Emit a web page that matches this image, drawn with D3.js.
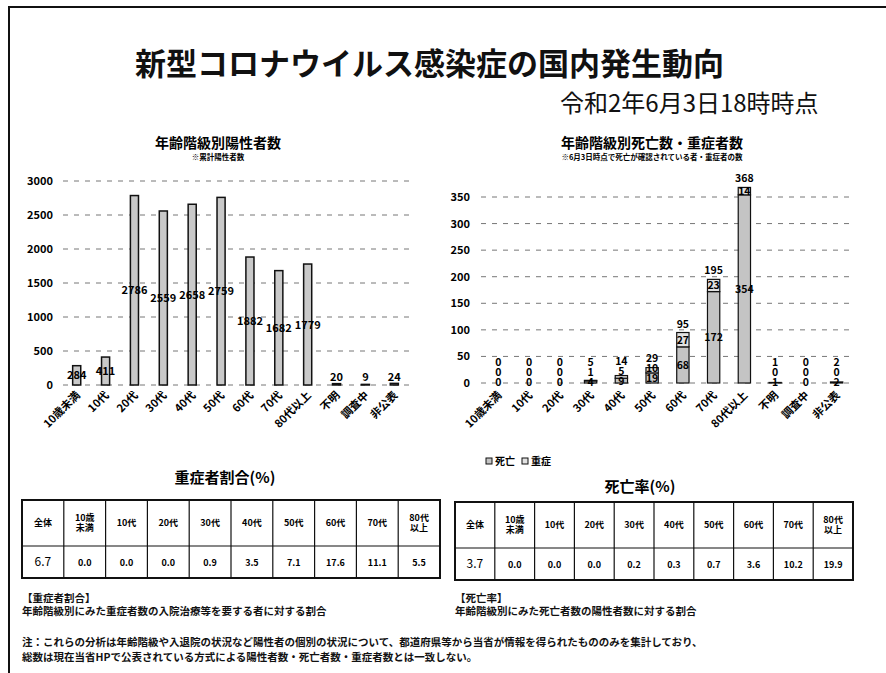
<!DOCTYPE html>
<html>
<head>
<meta charset="utf-8">
<script src="https://cdn.jsdelivr.net/npm/d3@7"></script>
<style>
  body { margin: 0; background: #fff; }
  svg { font-family: "Noto Sans CJK JP", "Noto Sans", sans-serif; }
</style>
</head>
<body>
<div id="container"></div>
<script>
const width = 886;
const height = 673;

const ageGroups = ["10歳未満", "10代", "20代", "30代", "40代", "50代", "60代", "70代", "80代以上", "不明", "調査中", "非公表"];
const positives = [284, 411, 2786, 2559, 2658, 2759, 1882, 1682, 1779, 20, 9, 24];
const deaths = [0, 0, 0, 4, 9, 19, 68, 172, 354, 1, 0, 2];
const severe = [0, 0, 0, 1, 5, 10, 27, 23, 14, 0, 0, 0];

const leftTicks = [0, 500, 1000, 1500, 2000, 2500, 3000];
const rightTicks = [0, 50, 100, 150, 200, 250, 300, 350];

const tableHeads = ["全体", "10歳\n未満", "10代", "20代", "30代", "40代", "50代", "60代", "70代", "80代\n以上"];
const severeRate = ["6.7", "0.0", "0.0", "0.0", "0.9", "3.5", "7.1", "17.6", "11.1", "5.5"];
const deathRate = ["3.7", "0.0", "0.0", "0.0", "0.2", "0.3", "0.7", "3.6", "10.2", "19.9"];

let svg = d3.select("#container").append("svg")
    .attr("width", width)
    .attr("height", height)
    .attr("viewBox", `0 0 ${width} ${height}`);

// frame
svg.append("path")
    .attr("d", "M9,673 V7 H886")
    .attr("fill", "none")
    .attr("stroke", "#111")
    .attr("stroke-width", 2);

svg.append("text")
    .attr("x", 135).attr("y", 75)
    .attr("font-size", 31).attr("font-weight", 700)
    .attr("fill", "#111")
    .text("新型コロナウイルス感染症の国内発生動向");

svg.append("text")
    .attr("x", 560).attr("y", 112)
    .attr("font-size", 24)
    .attr("fill", "#111")
    .text("令和2年6月3日18時時点");

// ---------- left chart: positives ----------
let xl = d3.scaleBand().domain(ageGroups).range([64, 407]).paddingInner(0.72).paddingOuter(0.3);
let yl = d3.scaleLinear().domain([0, 3000]).range([385, 181]);

svg.append("text").attr("x", 218).attr("y", 148).attr("text-anchor", "middle")
    .attr("font-size", 14).attr("font-weight", 700).text("年齢階級別陽性者数");
svg.append("text").attr("x", 218).attr("y", 160).attr("text-anchor", "middle")
    .attr("font-size", 7.5).attr("font-weight", 700).text("※累計陽性者数");

let gl = svg.append("g");
gl.selectAll("line.grid")
    .data(leftTicks)
    .join("line")
    .attr("x1", 63).attr("x2", 409)
    .attr("y1", d => yl(d)).attr("y2", d => yl(d))
    .attr("stroke", "#777")
    .attr("stroke-dasharray", "5,6");

gl.selectAll("text.tick")
    .data(leftTicks)
    .join("text")
    .attr("x", 53).attr("y", d => yl(d) + 4)
    .attr("text-anchor", "end")
    .attr("font-size", 11).attr("font-weight", 700)
    .text(d => d);

gl.selectAll("rect")
    .data(positives)
    .join("rect")
    .attr("x", (d, i) => xl(ageGroups[i]))
    .attr("y", d => yl(d))
    .attr("width", xl.bandwidth())
    .attr("height", d => yl(0) - yl(d))
    .attr("fill", "#c9c9c9")
    .attr("stroke", "#111")
    .attr("stroke-width", 1.5);

gl.selectAll("text.val")
    .data(positives)
    .join("text")
    .attr("x", (d, i) => xl(ageGroups[i]) + xl.bandwidth() / 2)
    .attr("y", d => Math.min((yl(d) + yl(0)) / 2, yl(0) - 8) + 4)
    .attr("text-anchor", "middle")
    .attr("font-size", 11).attr("font-weight", 700)
    .text(d => d);

gl.selectAll("text.cat")
    .data(ageGroups)
    .join("text")
    .attr("transform", d => "translate(" + (xl(d) + xl.bandwidth() / 2 + 4) + "," + 396 + ") rotate(-45)")
    .attr("text-anchor", "end")
    .attr("font-size", 11).attr("font-weight", 700)
    .text(d => d);

// ---------- right chart: deaths / severe ----------
let xr = d3.scaleBand().domain(ageGroups).range([483, 852]).paddingInner(0.6).paddingOuter(0.3);
let yr = d3.scaleLinear().domain([0, 350]).range([383, 197]);

svg.append("text").attr("x", 652).attr("y", 148).attr("text-anchor", "middle")
    .attr("font-size", 14).attr("font-weight", 700).text("年齢階級別死亡数・重症者数");
svg.append("text").attr("x", 652).attr("y", 160).attr("text-anchor", "middle")
    .attr("font-size", 7.5).attr("font-weight", 700).text("※6月3日時点で死亡が確認されている者・重症者の数");

let gr = svg.append("g");
gr.selectAll("line.grid")
    .data(rightTicks)
    .join("line")
    .attr("x1", 481).attr("x2", 852)
    .attr("y1", d => yr(d)).attr("y2", d => yr(d))
    .attr("stroke", "#777")
    .attr("stroke-dasharray", "5,6");

gr.selectAll("text.tick")
    .data(rightTicks)
    .join("text")
    .attr("x", 470).attr("y", d => yr(d) + 4)
    .attr("text-anchor", "end")
    .attr("font-size", 11).attr("font-weight", 700)
    .text(d => d);

let stacked = ageGroups.map((g, i) => ({ g: g, d: deaths[i], s: severe[i] }));

gr.selectAll("rect.death")
    .data(stacked)
    .join("rect")
    .attr("x", d => xr(d.g))
    .attr("y", d => yr(d.d))
    .attr("width", xr.bandwidth())
    .attr("height", d => yr(0) - yr(d.d))
    .attr("fill", "#c4c4c4")
    .attr("stroke", "#111")
    .attr("stroke-width", 1.2);

gr.selectAll("rect.severe")
    .data(stacked)
    .join("rect")
    .attr("x", d => xr(d.g))
    .attr("y", d => yr(d.d + d.s))
    .attr("width", xr.bandwidth())
    .attr("height", d => yr(d.d) - yr(d.d + d.s))
    .attr("fill", "#e2e2e2")
    .attr("stroke", "#111")
    .attr("stroke-width", 1.2);

// label positions, pushed apart when the segments are small
stacked.forEach(d => {
    d.dy = Math.min(yr(d.d / 2), yr(0) - 1);
    d.sy = Math.min(yr(d.d + d.s / 2), d.dy - 10);
    d.ty = Math.min(yr(d.d + d.s) - 9, d.sy - 10);
});

let labels = [];
stacked.forEach(d => {
    let cx = xr(d.g) + xr.bandwidth() / 2;
    labels.push({ x: cx, y: d.dy, t: d.d });
    labels.push({ x: cx, y: d.sy, t: d.s });
    labels.push({ x: cx, y: d.ty, t: d.d + d.s });
});

gr.selectAll("text.val")
    .data(labels)
    .join("text")
    .attr("x", d => d.x)
    .attr("y", d => d.y + 4)
    .attr("text-anchor", "middle")
    .attr("font-size", 10.5).attr("font-weight", 700)
    .text(d => d.t);

gr.selectAll("text.cat")
    .data(ageGroups)
    .join("text")
    .attr("transform", d => "translate(" + (xr(d) + xr.bandwidth() / 2 + 4) + "," + 396 + ") rotate(-45)")
    .attr("text-anchor", "end")
    .attr("font-size", 11).attr("font-weight", 700)
    .text(d => d);

// legend
let legend = svg.append("g").attr("font-size", 10).attr("font-weight", 700);
[["死亡", "#c4c4c4"], ["重症", "#e2e2e2"]].forEach((l, i) => {
    let lx = 486 + i * 36;
    legend.append("rect").attr("x", lx).attr("y", 458).attr("width", 6).attr("height", 6)
        .attr("fill", l[1]).attr("stroke", "#111");
    legend.append("text").attr("x", lx + 9).attr("y", 465).text(l[0]);
});

// ---------- tables ----------
function drawTable(x0, y0, colW, title, titleX, titleY, values) {
    svg.append("text").attr("x", titleX).attr("y", titleY).attr("text-anchor", "middle")
        .attr("font-size", 15).attr("font-weight", 700).text(title);
    let g = svg.append("g");
    let rowH = [46, 32];
    g.append("rect").attr("x", x0).attr("y", y0).attr("width", colW * 10).attr("height", rowH[0] + rowH[1])
        .attr("fill", "none").attr("stroke", "#111").attr("stroke-width", 2);
    g.append("line").attr("x1", x0).attr("x2", x0 + colW * 10).attr("y1", y0 + rowH[0]).attr("y2", y0 + rowH[0])
        .attr("stroke", "#111").attr("stroke-width", 1.2);
    g.selectAll("line.col")
        .data(d3.range(1, 10))
        .join("line")
        .attr("x1", i => x0 + i * colW).attr("x2", i => x0 + i * colW)
        .attr("y1", y0).attr("y2", y0 + rowH[0] + rowH[1])
        .attr("stroke", "#111").attr("stroke-width", 1.2);
    tableHeads.forEach((h, i) => {
        let parts = h.split("\n");
        let t = g.append("text").attr("text-anchor", "middle").attr("font-size", 9).attr("font-weight", 700);
        parts.forEach((p, j) => {
            t.append("tspan").attr("x", x0 + i * colW + colW / 2)
                .attr("y", y0 + rowH[0] / 2 + 3 + (j - (parts.length - 1) / 2) * 10)
                .text(p);
        });
    });
    g.selectAll("text.v")
        .data(values)
        .join("text")
        .attr("x", (d, i) => x0 + i * colW + colW / 2)
        .attr("y", y0 + rowH[0] + rowH[1] / 2 + 4)
        .attr("text-anchor", "middle")
        .attr("font-size", (d, i) => i == 0 ? 12 : 9)
        .attr("font-weight", (d, i) => i == 0 ? 400 : 700)
        .text(d => d);
}

drawTable(22, 500, 41.8, "重症者割合(%)", 225, 483, severeRate);
drawTable(455, 502, 39.8, "死亡率(%)", 640, 492, deathRate);

// ---------- notes ----------
let notes = svg.append("g").attr("font-size", 10.5).attr("font-weight", 700).attr("fill", "#111");
notes.append("text").attr("x", 22).attr("y", 602).text("【重症者割合】");
notes.append("text").attr("x", 22).attr("y", 615).text("年齢階級別にみた重症者数の入院治療等を要する者に対する割合");
notes.append("text").attr("x", 455).attr("y", 602).text("【死亡率】");
notes.append("text").attr("x", 455).attr("y", 615).text("年齢階級別にみた死亡者数の陽性者数に対する割合");
notes.append("text").attr("x", 22).attr("y", 646).text("注：これらの分析は年齢階級や入退院の状況など陽性者の個別の状況について、都道府県等から当省が情報を得られたもののみを集計しており、");
notes.append("text").attr("x", 22).attr("y", 661).text("総数は現在当省HPで公表されている方式による陽性者数・死亡者数・重症者数とは一致しない。");
</script>
</body>
</html>
